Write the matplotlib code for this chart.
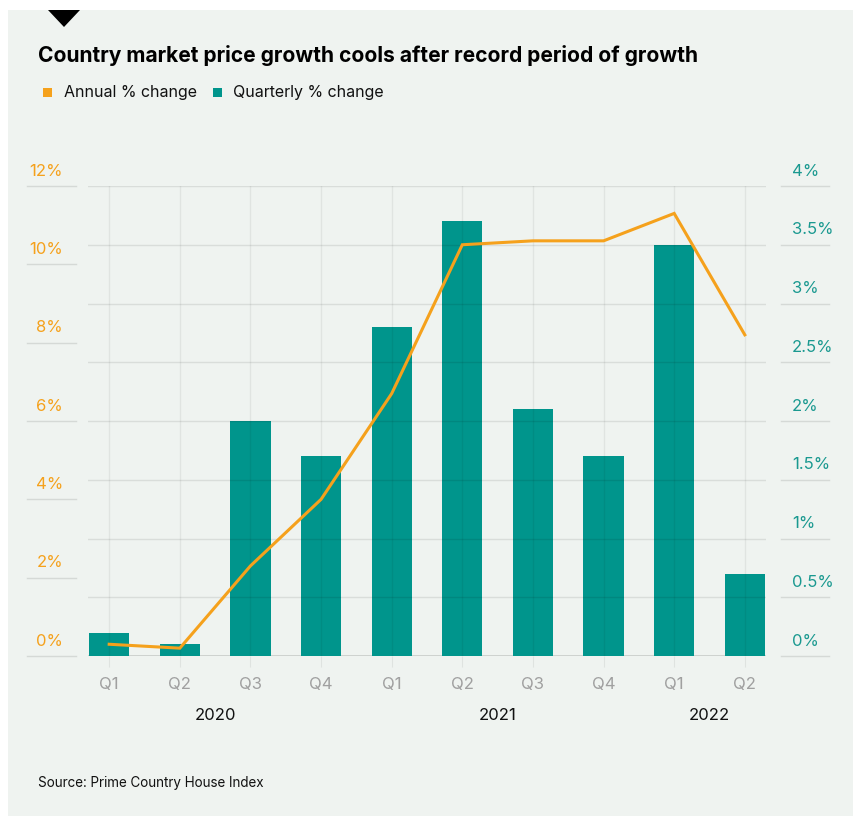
import matplotlib
matplotlib.use('Agg')
import matplotlib.pyplot as plt
from matplotlib.patches import Rectangle, Polygon

plt.rcParams['font.family'] = ['Inter', 'DejaVu Sans']

# data
quarters = ['Q1', 'Q2', 'Q3', 'Q4', 'Q1', 'Q2', 'Q3', 'Q4', 'Q1', 'Q2']
years = ['2020', '2021', '2022']
year_pos = [1.5, 5.5, 8.5]
annual = [0.3, 0.2, 2.3, 4.0, 6.7, 10.5, 10.6, 10.6, 11.3, 8.2]
quarterly = [0.2, 0.1, 2.0, 1.7, 2.8, 3.7, 2.1, 1.7, 3.5, 0.7]
left_ticks = [0, 2, 4, 6, 8, 10, 12]
right_ticks = [0, 0.5, 1, 1.5, 2, 2.5, 3, 3.5, 4]

bg = '#eff3f0'
orange = '#f5a11c'
teal = '#00958c'
teal_txt = '#1a9990'
grid_c = '#d5d9d6'

W, H = 854, 816
fig = plt.figure(figsize=(W / 100, H / 100), dpi=100, facecolor='white')
fig.patches.append(Rectangle((8 / W, 0), 1, 1 - 10 / H, transform=fig.transFigure,
                             facecolor=bg, edgecolor='none', zorder=-10))
fig.patches.append(Polygon([(48 / W, 1 - 10 / H), (80 / W, 1 - 10 / H), (64 / W, 1 - 27 / H)],
                           closed=True, transform=fig.transFigure, facecolor='black',
                           edgecolor='none', zorder=-5))

L, R, B, T = 88, 766, 656, 186
ax = fig.add_axes([L / W, 1 - B / H, (R - L) / W, (B - T) / H])
ax2 = ax.twinx()
ax.set_zorder(ax2.get_zorder() + 1)
ax.patch.set_visible(False)
ax2.patch.set_visible(False)

x = list(range(len(quarters)))
ax2.bar(x, quarterly, width=0.57, color=teal, zorder=2)
ax.plot(x, annual, color=orange, lw=2.2, solid_joinstyle='miter', zorder=3)

ax.set_xlim(-0.3, 9.3)
ax.set_ylim(0, 12)
ax2.set_ylim(0, 4)

# grid from right-axis steps, drawn over bars
for v in right_ticks[1:]:
    ax2.axhline(v, color='black', alpha=0.09, lw=1, zorder=3)
for xi in x:
    ax2.axvline(xi, color='black', alpha=0.06, lw=1, zorder=3)
ax2.axhline(0, color='#c8ccc9', lw=1.2, zorder=1)

for a in (ax, ax2):
    for s in a.spines.values():
        s.set_visible(False)
    a.set_yticks([])

ax.set_xticks(x)
ax.set_xticklabels(quarters, color='#a0a0a0', fontsize=12)
ax.tick_params(axis='x', length=8, color='#dfe3e0', pad=7)

# custom y labels sitting above short underlines
yt = ax.get_yaxis_transform()
for v in left_ticks:
    ax.annotate(f'{v}%', xy=(-0.037, v), xycoords=yt,
                xytext=(0, 15), textcoords='offset pixels', ha='right', va='center',
                color=orange, fontsize=12)
    ax.plot([-0.09, -0.018], [v, v], transform=yt, color=grid_c, lw=1, clip_on=False)
yt2 = ax2.get_yaxis_transform()
for v in right_ticks:
    ax2.annotate(f'{v:g}%', xy=(1.038, v), xycoords=yt2,
                 xytext=(0, 15), textcoords='offset pixels', ha='left', va='center',
                 color=teal_txt, fontsize=12)
    ax2.plot([1.022, 1.093], [v, v], transform=yt2, color=grid_c, lw=1, clip_on=False)

for yr, p in zip(years, year_pos):
    ax.text(p, -0.126, yr, transform=ax.get_xaxis_transform(), ha='center',
            va='center', fontsize=12, color='#111111')

fig.text(38 / W, 1 - 55 / H, 'Country market price growth cools after record period of growth',
         fontsize=15.1, fontweight='bold', color='black', va='center', ha='left')
fig.patches.append(Rectangle((43 / W, 1 - 97 / H), 9 / W, 9 / H, transform=fig.transFigure,
                             facecolor=orange, edgecolor='none'))
fig.text(64 / W, 1 - 92 / H, 'Annual % change', fontsize=11.5, va='center', color='#111111')
fig.patches.append(Rectangle((213 / W, 1 - 97 / H), 9 / W, 9 / H, transform=fig.transFigure,
                             facecolor=teal, edgecolor='none'))
fig.text(233 / W, 1 - 92 / H, 'Quarterly % change', fontsize=11.5, va='center', color='#111111')

fig.text(38 / W, 1 - 783 / H, 'Source: Prime Country House Index', fontsize=9.7,
         va='center', color='#111111')

fig.savefig('out.png', dpi=100, facecolor=fig.get_facecolor())
